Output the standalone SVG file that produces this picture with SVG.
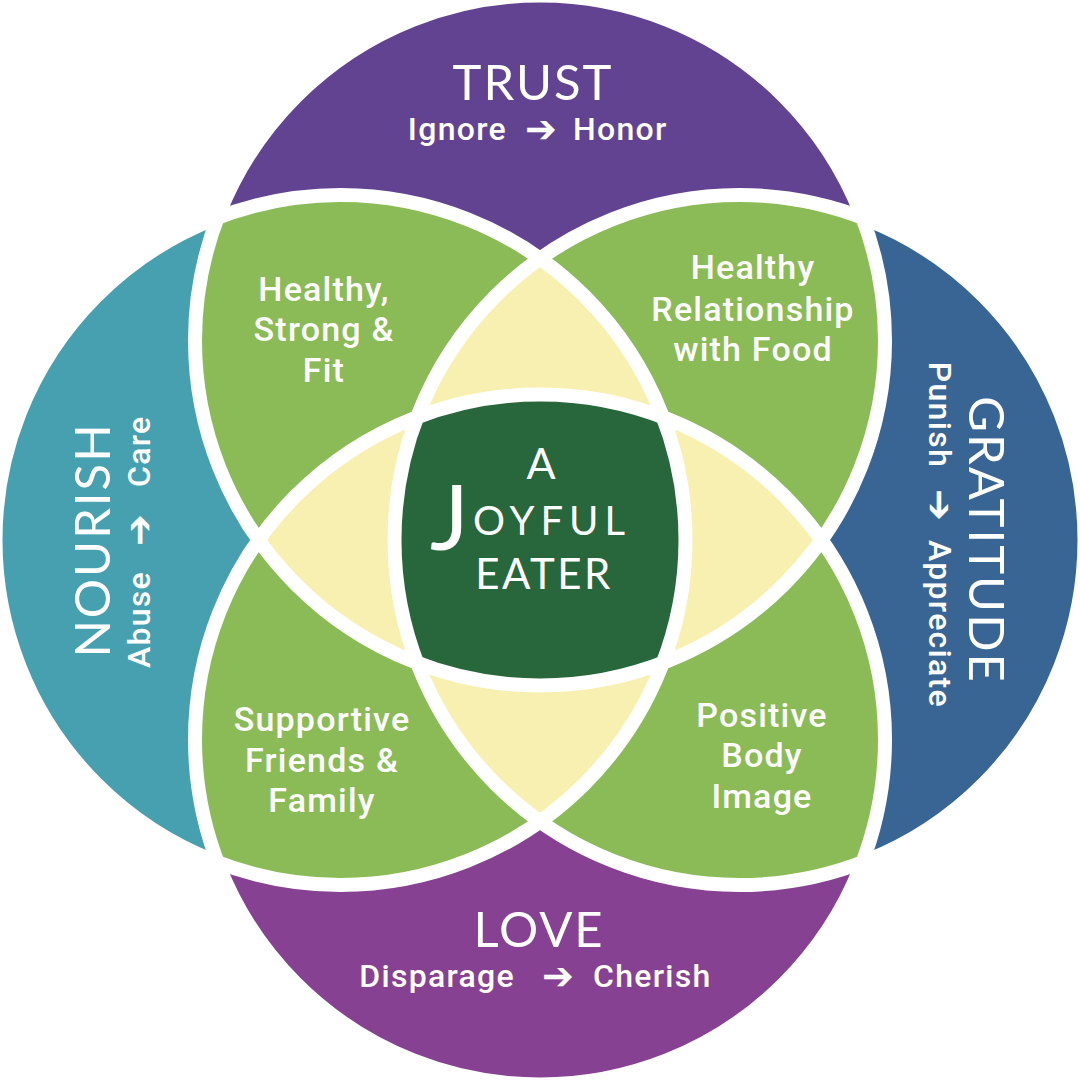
<svg xmlns="http://www.w3.org/2000/svg" width="1080" height="1080" viewBox="0 0 1080 1080">
<style>
.title{font-family:Lato,"Open Sans",sans-serif;font-weight:400;font-size:49px;fill:#fff;letter-spacing:2px}
.sub{font-family:Roboto,"Open Sans",sans-serif;font-weight:500;font-size:32px;fill:#fff;letter-spacing:1.3px}
.arrow{font-family:"DejaVu Sans",sans-serif;font-weight:bold;font-size:38px;fill:#fff}
.label{font-family:Roboto,"Open Sans",sans-serif;font-weight:500;font-size:34px;fill:#fff;text-anchor:middle;letter-spacing:1.2px}
.joy{font-family:Lato,"Open Sans",sans-serif;font-weight:400;fill:#fff}
.outline{fill:none;stroke:#fff;stroke-width:14}
</style>
<defs>
<clipPath id="cT"><circle cx="540" cy="340.5" r="345"/></clipPath>
<clipPath id="cB"><circle cx="540" cy="739.5" r="345"/></clipPath>
<clipPath id="cL"><circle cx="340.5" cy="540" r="345"/></clipPath>
<clipPath id="cR"><circle cx="739.5" cy="540" r="345"/></clipPath>
</defs>
<rect width="1080" height="1080" fill="#fff"/>
<g id="trust"><circle cx="540" cy="340.5" r="345" fill="#624392"/></g>
<g id="love"><circle cx="540" cy="739.5" r="345" fill="#874192"/></g>
<g id="nourish"><circle cx="340.5" cy="540" r="345" fill="#47a0b0"/></g>
<g id="gratitude"><circle cx="739.5" cy="540" r="345" fill="#396594"/></g>
<g id="healthy-strong-fit"><g clip-path="url(#cT)"><circle cx="340.5" cy="540" r="345" fill="#8bbb56"/></g></g>
<g id="healthy-relationship"><g clip-path="url(#cT)"><circle cx="739.5" cy="540" r="345" fill="#8bbb56"/></g></g>
<g id="supportive-friends"><g clip-path="url(#cB)"><circle cx="340.5" cy="540" r="345" fill="#8bbb56"/></g></g>
<g id="positive-body"><g clip-path="url(#cB)"><circle cx="739.5" cy="540" r="345" fill="#8bbb56"/></g></g>
<g id="yellow-top"><g clip-path="url(#cT)"><g clip-path="url(#cL)"><circle cx="739.5" cy="540" r="345" fill="#f8f0b0"/></g></g></g>
<g id="yellow-left"><g clip-path="url(#cT)"><g clip-path="url(#cL)"><circle cx="540" cy="739.5" r="345" fill="#f8f0b0"/></g></g></g>
<g id="yellow-right"><g clip-path="url(#cT)"><g clip-path="url(#cR)"><circle cx="540" cy="739.5" r="345" fill="#f8f0b0"/></g></g></g>
<g id="yellow-bottom"><g clip-path="url(#cB)"><g clip-path="url(#cL)"><circle cx="739.5" cy="540" r="345" fill="#f8f0b0"/></g></g></g>
<g id="joyful-eater"><g clip-path="url(#cT)"><g clip-path="url(#cL)"><g clip-path="url(#cR)"><circle cx="540" cy="739.5" r="345" fill="#28663c"/></g></g></g></g>
<g id="outlines">
<circle class="outline" cx="540" cy="340.5" r="345"/>
<circle class="outline" cx="540" cy="739.5" r="345"/>
<circle class="outline" cx="340.5" cy="540" r="345"/>
<circle class="outline" cx="739.5" cy="540" r="345"/>
</g>
<g id="trust-label">
<text class="title" x="533" y="100" text-anchor="middle">TRUST</text>
<text class="sub" x="507" y="140" text-anchor="end">Ignore</text>
<text class="arrow" x="541" y="142" text-anchor="middle">➔</text>
<text class="sub" x="573" y="140">Honor</text>
</g>
<g id="love-label">
<text class="title" x="539" y="947" text-anchor="middle">LOVE</text>
<text class="sub" x="515" y="987" text-anchor="end">Disparage</text>
<text class="arrow" x="558" y="989" text-anchor="middle">➔</text>
<text class="sub" x="593" y="987">Cherish</text>
</g>
<g id="nourish-label">
<g transform="translate(110,540) rotate(-90)"><text class="title" x="0" y="0" text-anchor="middle">NOURISH</text></g>
<g transform="translate(150,540) rotate(-90)">
<text class="sub" x="-31" y="0" text-anchor="end">Abuse</text>
<text class="arrow" x="10" y="2" text-anchor="middle">➔</text>
<text class="sub" x="53" y="0">Care</text>
</g>
</g>
<g id="gratitude-label">
<g transform="translate(969,540) rotate(90)"><text class="title" x="0" y="0" text-anchor="middle">GRATITUDE</text></g>
<g transform="translate(929,540) rotate(90)">
<text class="sub" x="-72" y="0" text-anchor="end">Punish</text>
<text class="arrow" x="-35" y="2" text-anchor="middle">➔</text>
<text class="sub" x="0" y="0">Appreciate</text>
</g>
</g>
<g id="healthy-strong-fit-label">
<text class="label" x="324" y="301">Healthy,</text>
<text class="label" x="324" y="341">Strong &amp;</text>
<text class="label" x="324" y="382">Fit</text>
</g>
<g id="healthy-relationship-label">
<text class="label" x="753" y="279">Healthy</text>
<text class="label" x="753" y="321">Relationship</text>
<text class="label" x="753" y="361">with Food</text>
</g>
<g id="supportive-friends-label">
<text class="label" x="322" y="731">Supportive</text>
<text class="label" x="322" y="772">Friends &amp;</text>
<text class="label" x="322" y="812">Family</text>
</g>
<g id="positive-body-label">
<text class="label" x="762" y="727">Positive</text>
<text class="label" x="762" y="767">Body</text>
<text class="label" x="762" y="808">Image</text>
</g>
<g id="joyful-eater-label">
<text class="joy" x="541" y="479" font-size="43" text-anchor="middle">A</text>
<text class="joy" x="430" y="550" font-size="92" font-weight="300">J</text>
<text class="joy" x="473" y="535" font-size="40" letter-spacing="6">OYFUL</text>
<text class="joy" x="544" y="589" font-size="42" letter-spacing="2.5" text-anchor="middle">EATER</text>
</g>
</svg>
